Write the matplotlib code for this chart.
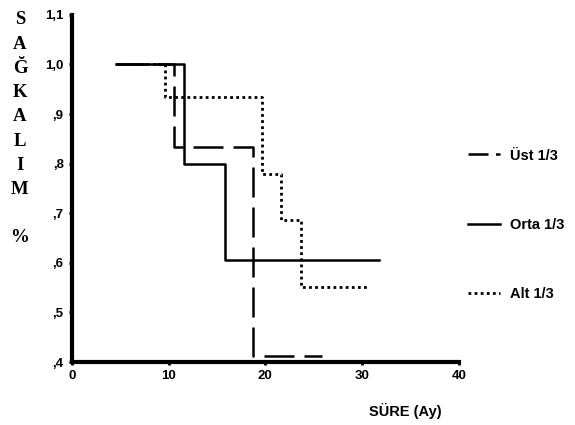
import matplotlib
matplotlib.use("Agg")
import matplotlib.pyplot as plt
from matplotlib.lines import Line2D

# survival steps (time in months, survival proportion)
ust_t = [4.6, 10.6, 18.7, 25.9]
ust_s = [1.0, 0.833, 0.413, 0.413]

orta_t = [4.6, 11.6, 15.8, 31.7]
orta_s = [1.0, 0.80, 0.606, 0.606]

alt_t = [4.6, 9.6, 19.7, 21.6, 23.7, 30.7]
alt_s = [1.0, 0.935, 0.78, 0.687, 0.552, 0.552]

labels = ["Üst 1/3", "Orta 1/3", "Alt 1/3"]
yticks = [0.4, 0.5, 0.6, 0.7, 0.8, 0.9, 1.0, 1.1]
ytick_labels = [",4", ",5", ",6", ",7", ",8", ",9", "1,0", "1,1"]
xticks = [0, 10, 20, 30, 40]
ylabel_letters = ["S", "A", "Ğ", "K", "A", "L", "I", "M", "", "%"]

plt.rcParams["font.family"] = ["Liberation Sans", "DejaVu Sans"]

fig = plt.figure(figsize=(5.75, 4.25), dpi=100)
ax = fig.add_axes([0.125, 0.148, 0.673, 0.817])

ax.step(ust_t, ust_s, where="post", color="black", lw=1.8,
        dashes=(12, 4), zorder=2)
ax.step(alt_t, alt_s, where="post", color="black", lw=2.0,
        linestyle=(0, (1, 1.2)), zorder=2)
ax.step(orta_t, orta_s, where="post", color="black", lw=1.8, zorder=3)

ax.set_xlim(0, 40)
ax.set_ylim(0.4, 1.1)
ax.set_xticks(xticks)
ax.set_yticks(yticks)
ax.set_yticklabels(ytick_labels)
for lab in ax.get_xticklabels() + ax.get_yticklabels():
    lab.set_fontweight("bold")
    lab.set_fontsize(9.5)
ax.tick_params(axis="y", direction="out", length=2, width=2, pad=4)
ax.tick_params(axis="x", direction="out", length=2, width=2, pad=4)

for side in ["top", "right"]:
    ax.spines[side].set_visible(False)
for side in ["left", "bottom"]:
    ax.spines[side].set_linewidth(3)

# stacked vertical y label
for i, ch in enumerate(ylabel_letters):
    fig.text(20 / 575, 1 - (20 + i * 24.2) / 425, ch, ha="center", va="center",
             fontsize=13.5, fontweight="bold", family="Liberation Serif")

fig.text(405 / 575, 1 - 411 / 425, "SÜRE (Ay)", ha="center", va="center",
         fontsize=10.5, fontweight="bold")

handles = [Line2D([], [], color="black", lw=1.8, dashes=(8, 3)),
           Line2D([], [], color="black", lw=1.8),
           Line2D([], [], color="black", lw=2.0, linestyle=(0, (1, 1.2)))]
fig.legend(handles, labels, loc="center left",
           bbox_to_anchor=(455 / 575, 1 - 225 / 425), frameon=False,
           labelspacing=3.8, handlelength=2.2, handletextpad=0.7,
           prop={"weight": "bold", "size": 10.5})

fig.savefig("out.png", dpi=100)
